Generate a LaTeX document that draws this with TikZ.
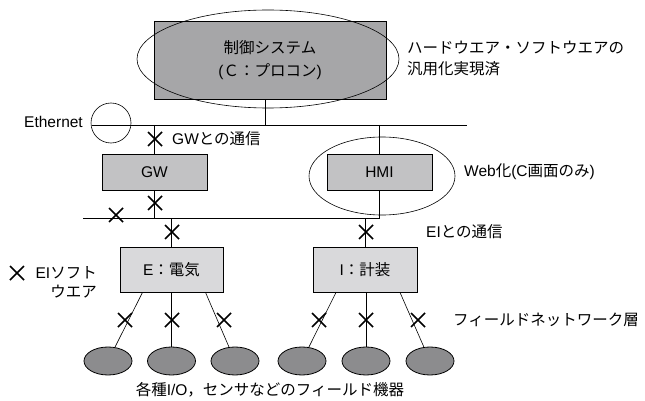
\documentclass[tikz,border=0pt]{standalone}
\usepackage{fontspec}
\setmainfont{Liberation Sans}
\newfontfamily\jp{Noto Sans CJK JP}
\usetikzlibrary{shapes.geometric}
\definecolor{ctrlgray}{RGB}{166,166,168}
\definecolor{midgray}{RGB}{194,194,196}
\definecolor{lightgray}{RGB}{217,217,219}
\definecolor{devgray}{RGB}{140,140,142}
\tikzset{
  box/.style={draw, line width=0.8pt, inner sep=0pt, align=center},
  wire/.style={line width=0.9pt},
  thinwire/.style={line width=0.6pt},
  ring/.style={line width=0.6pt},
  device/.style={ellipse, draw, line width=0.8pt, fill=devgray, minimum width=48pt, minimum height=28pt, inner sep=0pt},
  lbl/.style={inner sep=0pt, align=left},
  xmark/.pic={\draw[line width=1.5pt] (-7,-7) -- (7,7) (-7,7) -- (7,-7);}
}
\begin{document}
\begin{tikzpicture}[x=1pt,y=-1pt,font=\fontsize{15.5}{24}\selectfont]
\useasboundingbox (0,0) rectangle (645,401);
% boxes
\node[box, fill=ctrlgray, minimum width=232pt, minimum height=78pt, font=\fontsize{15.5}{23}\selectfont] (ctrl) at (270,60)
  {{\jp 制御システム}\\({\jp Ｃ：プロコン})};
\node[box, fill=midgray, minimum width=105pt, minimum height=36pt] (gw) at (154.5,172) {GW};
\node[box, fill=midgray, minimum width=105pt, minimum height=36pt] (hmi) at (379.5,172) {HMI};
\node[box, fill=lightgray, minimum width=103pt, minimum height=45pt] (e) at (171.5,269.5) {E{\jp ：電気}};
\node[box, fill=lightgray, minimum width=104pt, minimum height=45pt] (i) at (365,269.5) {I{\jp ：計装}};
% ellipses / circle
\draw[ring] (268,59) ellipse [x radius=131, y radius=49];
\draw[ring] (382,176) ellipse [x radius=73, y radius=39];
\draw[ring] (111,123) circle [radius=20];
% buses
\coordinate (ethL) at (92,125);
\coordinate (ethR) at (467,125);
\coordinate (busL) at (83,218);
\coordinate (busR) at (380,218);
\draw[wire] (ethL) -- (ethR);
\draw[wire] (busL) -- (busR);
\draw[wire] ([xshift=-5pt]ctrl.south) -- ([xshift=-5pt]ctrl.south |- ethL);
\draw[wire] (gw.north |- ethL) -- (gw.north);
\draw[wire] (gw.south) -- (gw.south |- busL);
\draw[wire] (hmi.north |- ethL) -- (hmi.north);
\draw[wire] (hmi.south) -- (hmi.south |- busL);
\draw[wire] (e.north |- busL) -- (e.north);
\draw[wire] (i.north |- busL) -- (i.north);
% field devices
\node[device] (f1) at (108,361) {};
\node[device] (f2) at (171.5,361) {};
\node[device] (f3) at (235,361) {};
\node[device] (f4) at (302,361) {};
\node[device] (f5) at (366,361) {};
\node[device] (f6) at (430,361) {};
\draw[thinwire] ([xshift=-29pt]e.south) -- (f1);
\draw[thinwire] (e.south) -- (f2);
\draw[thinwire] ([xshift=34pt]e.south) -- (f3);
\draw[thinwire] ([xshift=-29pt]i.south) -- (f4);
\draw[thinwire] ([xshift=1pt]i.south) -- (f5);
\draw[thinwire] ([xshift=35pt]i.south) -- (f6);
% cross marks
\pic at (155,139) {xmark};
\pic at (155,203) {xmark};
\pic at (116,215) {xmark};
\pic at (172,232) {xmark};
\pic at (366,232) {xmark};
\pic at (17,273) {xmark};
\pic at (125,320) {xmark};
\pic at (172,320) {xmark};
\pic at (224,320) {xmark};
\pic at (319,320) {xmark};
\pic at (366,320) {xmark};
\pic at (418,320) {xmark};
% labels
\node[lbl, anchor=west, font=\jp\fontsize{15.5}{21}\selectfont] (hwlbl) at (407,58)
  {ハードウエア・ソフトウエアの\\汎用化実現済};
\node[lbl, anchor=east] (ethlbl) at (83,122) {Ethernet};
\node[lbl, anchor=west] (gwlbl) at (172,139) {GW{\jp との通信}};
\node[lbl, anchor=west] (weblbl) at (464,172) {Web{\jp 化}(C{\jp 画面のみ})};
\node[lbl, anchor=west] (eilbl) at (426,232) {EI{\jp との通信}};
\node[lbl, anchor=east, align=right, font=\fontsize{15.5}{19}\selectfont] (swlbl) at (97,282) {EI{\jp ソフト}\\{\jp ウエア}};
\node[lbl, anchor=west] (fnlbl) at (453,320) {\jp フィールドネットワーク層};
\node[lbl] (devlbl) at (270,390) {{\jp 各種}I/O{\jp ，センサなどのフィールド機器}};
\end{tikzpicture}
\end{document}
